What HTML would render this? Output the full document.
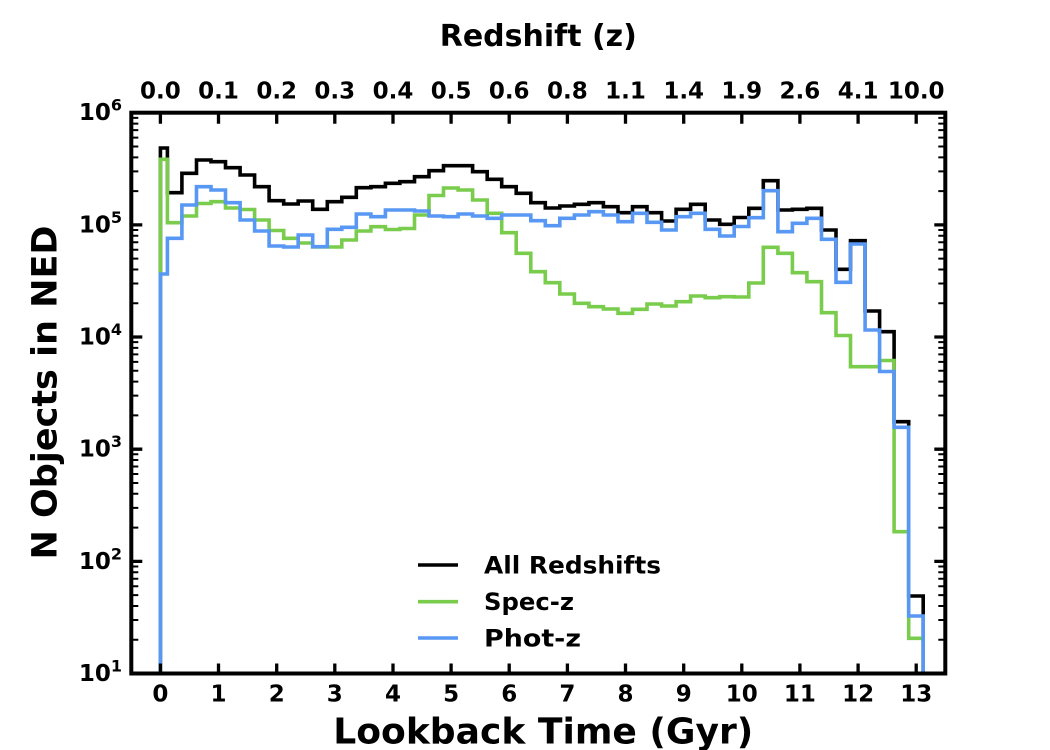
<!DOCTYPE html>
<html>
<head>
<meta charset="utf-8">
<style>
html,body{margin:0;padding:0;background:#fff;}
svg{display:block;}
text{font-family:"DejaVu Sans","Liberation Sans",sans-serif;font-weight:bold;fill:#000;}
</style>
</head>
<body>
<svg width="1050" height="750" viewBox="0 0 1050 750" xmlns="http://www.w3.org/2000/svg">
<defs>
<clipPath id="pa"><rect x="131.3" y="112.7" width="814" height="560.8"/></clipPath>
<path id="mn" d="M0,-33.76h7M0,-53.51h7M0,-67.53h7M0,-78.4h7M0,-87.28h7M0,-94.79h7M0,-101.29h7M0,-107.03h7" stroke="#000" stroke-width="2" fill="none"/>
</defs>
<rect width="1050" height="750" fill="#fff"/>

<g clip-path="url(#pa)" fill="none" stroke-width="3.6" stroke-linejoin="miter">
<path stroke="#000" d="M160.4,673.5 V148 H167.4 V192.7 H181.9 V173.3 H196.5 V160 H211 V161.7 H225.5 V167.7 H240.1 V175 H254.6 V186.7 H269.1 V200.7 H283.7 V204 H298.2 V201 H312.7 V209.3 H327.3 V201.7 H341.8 V197.3 H356.3 V187.7 H370.9 V186.7 H385.4 V183.3 H399.9 V181.7 H414.5 V176.7 H429 V170.7 H443.5 V165.7 H458.1 V165.7 H472.6 V171.7 H487.2 V179.3 H501.7 V186.7 H516.2 V193.3 H530.8 V202.7 H545.3 V208 H559.8 V206 H574.4 V204.3 H588.9 V202.7 H603.4 V206.7 H618 V212.7 H632.5 V206.7 H647 V212.7 H661.6 V221 H676.1 V209.3 H690.6 V204.3 H705.2 V220 H719.7 V224.3 H734.2 V217.5 H748.8 V208.3 H763.3 V180.7 H777.9 V210 H792.4 V209.3 H806.9 V208.3 H821.5 V230 H836 V269.3 H850.5 V240.7 H865.1 V311 H879.6 V331.7 H894.1 V421.7 H908.7 V596 H923.2 V673.5"/>
<path stroke="#7acc4c" d="M160.4,673.5 V159.3 H167.4 V222.7 H181.9 V216 H196.5 V203.5 H211 V201.7 H225.5 V208 H240.1 V209.5 H254.6 V220 H269.1 V230.5 H283.7 V238.3 H298.2 V243 H312.7 V247 H327.3 V247 H341.8 V240 H356.3 V231 H370.9 V226.7 H385.4 V229.5 H399.9 V228.5 H414.5 V215 H429 V195.5 H443.5 V188 H458.1 V190 H472.6 V200 H487.2 V213.3 H501.7 V232.7 H516.2 V253.3 H530.8 V271.7 H545.3 V282.7 H559.8 V294 H574.4 V303.3 H588.9 V306.7 H603.4 V309 H618 V313.3 H632.5 V309.3 H647 V304 H661.6 V306 H676.1 V301.7 H690.6 V296 H705.2 V297.7 H719.7 V296.7 H734.2 V297 H748.8 V283 H763.3 V247.3 H777.9 V253.3 H792.4 V272.7 H806.9 V281.7 H821.5 V312.7 H836 V335.5 H850.5 V366.7 H865.1 V366.7 H879.6 V360.5 H894.1 V531.7 H908.7 V638.3 H923.2 V673.5"/>
<path stroke="#5898f4" d="M160.4,673.5 V274 H167.4 V238.3 H181.9 V205 H196.5 V186.7 H211 V190 H225.5 V202.7 H240.1 V220 H254.6 V231 H269.1 V246 H283.7 V247 H298.2 V235 H312.7 V246.7 H327.3 V229.3 H341.8 V227.3 H356.3 V214 H370.9 V216.7 H385.4 V210 H399.9 V210 H414.5 V211 H429 V216 H443.5 V216.7 H458.1 V214 H472.6 V216 H487.2 V218.3 H501.7 V215 H516.2 V215 H530.8 V220.7 H545.3 V225.7 H559.8 V218.3 H574.4 V215 H588.9 V211.7 H603.4 V215 H618 V221.7 H632.5 V213.3 H647 V222.3 H661.6 V230 H676.1 V216.7 H690.6 V213.3 H705.2 V229.3 H719.7 V236 H734.2 V226.5 H748.8 V217.7 H763.3 V190.7 H777.9 V231.7 H792.4 V223.3 H806.9 V218.3 H821.5 V239.3 H836 V282.3 H850.5 V244 H865.1 V330 H879.6 V371.5 H894.1 V427.3 H908.7 V616 H923.2 V673.5"/>
</g>

<!-- minor y ticks -->
<use href="#mn" x="131.3" y="673.5"/>
<use href="#mn" x="131.3" y="561.34"/>
<use href="#mn" x="131.3" y="449.18"/>
<use href="#mn" x="131.3" y="337.02"/>
<use href="#mn" x="131.3" y="224.86"/>
<use href="#mn" transform="translate(945.3,673.5) scale(-1,1)"/>
<use href="#mn" transform="translate(945.3,561.34) scale(-1,1)"/>
<use href="#mn" transform="translate(945.3,449.18) scale(-1,1)"/>
<use href="#mn" transform="translate(945.3,337.02) scale(-1,1)"/>
<use href="#mn" transform="translate(945.3,224.86) scale(-1,1)"/>

<!-- major ticks -->
<g stroke="#000" stroke-width="3.3" fill="none">
<path d="M131.3,673.5h11M131.3,561.34h11M131.3,449.18h11M131.3,337.02h11M131.3,224.86h11M131.3,112.7h11"/>
<path d="M945.3,673.5h-11M945.3,561.34h-11M945.3,449.18h-11M945.3,337.02h-11M945.3,224.86h-11M945.3,112.7h-11"/>
<path d="M160.4,673.5v-10M218.5,673.5v-10M276.7,673.5v-10M334.8,673.5v-10M393,673.5v-10M451.1,673.5v-10M509.2,673.5v-10M567.4,673.5v-10M625.5,673.5v-10M683.7,673.5v-10M741.8,673.5v-10M799.9,673.5v-10M858.1,673.5v-10M916.2,673.5v-10"/>
<path d="M160.4,112.7v11M218.5,112.7v11M276.7,112.7v11M334.8,112.7v11M393,112.7v11M451.1,112.7v11M509.2,112.7v11M567.4,112.7v11M625.5,112.7v11M683.7,112.7v11M741.8,112.7v11M799.9,112.7v11M858.1,112.7v11M916.2,112.7v11"/>
</g>

<!-- spines -->
<rect x="131.3" y="112.7" width="814" height="560.8" fill="none" stroke="#000" stroke-width="4"/>

<!-- bottom tick labels -->
<g font-size="23" text-anchor="middle">
<text x="160.4" y="701.5">0</text>
<text x="218.5" y="701.5">1</text>
<text x="276.7" y="701.5">2</text>
<text x="334.8" y="701.5">3</text>
<text x="393" y="701.5">4</text>
<text x="451.1" y="701.5">5</text>
<text x="509.2" y="701.5">6</text>
<text x="567.4" y="701.5">7</text>
<text x="625.5" y="701.5">8</text>
<text x="683.7" y="701.5">9</text>
<text x="741.8" y="701.5">10</text>
<text x="799.9" y="701.5">11</text>
<text x="858.1" y="701.5">12</text>
<text x="916.2" y="701.5">13</text>
</g>

<!-- top tick labels -->
<g font-size="23" text-anchor="middle">
<text x="160.4" y="98.3">0.0</text>
<text x="218.5" y="98.3">0.1</text>
<text x="276.7" y="98.3">0.2</text>
<text x="334.8" y="98.3">0.3</text>
<text x="393" y="98.3">0.4</text>
<text x="451.1" y="98.3">0.5</text>
<text x="509.2" y="98.3">0.6</text>
<text x="567.4" y="98.3">0.8</text>
<text x="625.5" y="98.3">1.1</text>
<text x="683.7" y="98.3">1.4</text>
<text x="741.8" y="98.3">1.9</text>
<text x="799.9" y="98.3">2.6</text>
<text x="858.1" y="98.3">4.1</text>
<text x="916.2" y="98.3">10.0</text>
</g>

<!-- y tick labels -->
<g font-size="23" text-anchor="end">
<text x="122" y="120.2">10<tspan font-size="16" dy="-9.5">6</tspan></text>
<text x="122" y="232.4">10<tspan font-size="16" dy="-9.5">5</tspan></text>
<text x="122" y="344.5">10<tspan font-size="16" dy="-9.5">4</tspan></text>
<text x="122" y="456.7">10<tspan font-size="16" dy="-9.5">3</tspan></text>
<text x="122" y="568.8">10<tspan font-size="16" dy="-9.5">2</tspan></text>
<text x="122" y="681">10<tspan font-size="16" dy="-9.5">1</tspan></text>
</g>

<!-- axis labels -->
<text x="538.3" y="46" font-size="30" text-anchor="middle">Redshift (z)</text>
<text x="543.3" y="743.5" font-size="36" text-anchor="middle" textLength="420" lengthAdjust="spacingAndGlyphs">Lookback Time (Gyr)</text>
<text transform="translate(56.7,392.5) rotate(-90)" font-size="35" text-anchor="middle">N Objects in NED</text>

<!-- legend -->
<g stroke-width="3.6" fill="none">
<path d="M418,565h40" stroke="#000"/>
<path d="M418,601.7h40" stroke="#7acc4c"/>
<path d="M418,638h40" stroke="#5898f4"/>
</g>
<g font-size="24">
<text x="484" y="573.5" textLength="177" lengthAdjust="spacingAndGlyphs">All Redshifts</text>
<text x="484" y="610" textLength="90" lengthAdjust="spacingAndGlyphs">Spec-z</text>
<text x="484" y="646.5" textLength="97" lengthAdjust="spacingAndGlyphs">Phot-z</text>
</g>
</svg>
</body>
</html>
